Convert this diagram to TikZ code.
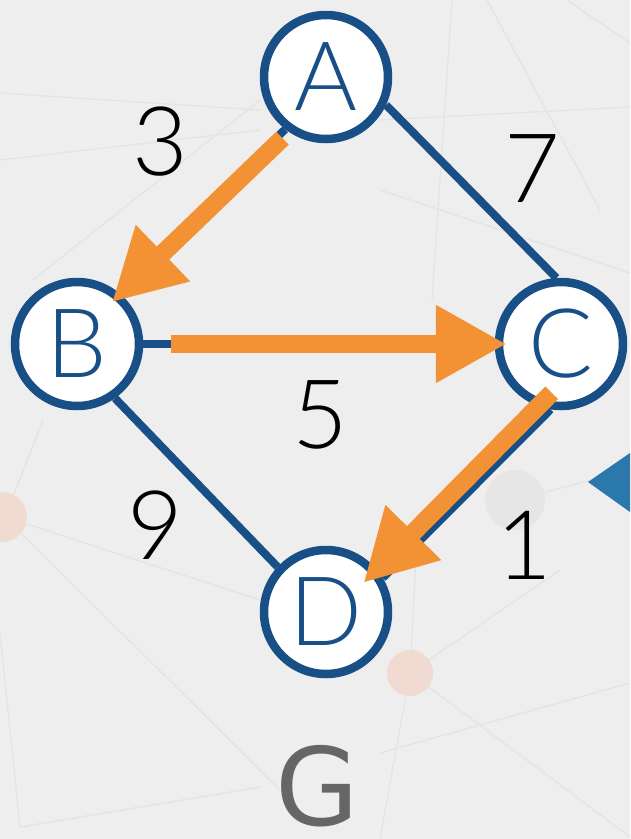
\documentclass[tikz,border=0pt]{standalone}
\usepackage{fontspec}
\setmainfont{Lato}[UprightFont=* Light]
\newfontfamily\gfont{DejaVu Sans}
\usetikzlibrary{arrows.meta}
\definecolor{bgc}{HTML}{EEEEEE}
\definecolor{nodeblue}{HTML}{174F86}
\definecolor{arrorange}{HTML}{F39234}
\definecolor{bgline}{HTML}{E4E4E4}
\definecolor{gtext}{HTML}{666666}
\definecolor{pinkdot}{HTML}{F0DAD2}
\definecolor{graydot}{HTML}{E6E6E6}
\definecolor{tri}{HTML}{2B78AD}
\pgfdeclarelayer{bg}
\pgfdeclarelayer{edges}
\pgfdeclarelayer{front}
\pgfsetlayers{bg,edges,main,front}
\begin{document}
\begin{tikzpicture}[x=1pt,y=-1pt,
  vertex/.style={circle,draw=nodeblue,line width=8.5pt,fill=white,minimum size=124pt,inner sep=0pt,text=nodeblue,font=\fontsize{96}{100}\selectfont},
  weight/.style={font=\fontsize{96}{100}\selectfont,text=black,inner sep=0pt},
  blueedge/.style={draw=nodeblue,line width=8pt},
  chosen/.style={draw=arrorange,line width=18pt,-{Triangle[width=73pt,length=71pt]}},
  bgl/.style={draw=bgline,line width=1.3pt}]
\useasboundingbox (0,0) rectangle (630,839);
\begin{pgfonlayer}{bg}
  \begin{scope}
  \clip (0,0) rectangle (630,839);
  \fill[bgc] (0,0) rectangle (630,839);
  % faint background network
  \draw[bgl] (452,0) -- (432,300);
  \draw[bgl] (487,0) -- (600,210);
  \draw[bgl] (567,0) -- (630,43);
  \draw[bgl] (380,120) -- (630,107);
  \draw[bgl] (380,190) -- (630,273);
  \draw[bgl] (0,93) -- (260,110);
  \draw[bgl] (0,160) -- (260,130);
  \draw[bgl] (33,280) -- (260,100);
  \draw[bgl] (5,517) -- (260,600);
  \draw[bgl] (5,517) -- (280,790);
  \draw[bgl] (43,420) -- (5,517);
  \draw[bgl] (0,633) -- (20,827);
  \draw[bgl] (20,827) -- (260,787);
  \draw[bgl] (410,673) -- (417,540);
  \draw[bgl] (410,673) -- (560,570);
  \draw[bgl] (410,673) -- (380,839);
  \draw[bgl] (410,673) -- (630,837);
  \draw[bgl] (380,753) -- (630,683);
  \draw[bgl] (515,500) -- (630,470);
  \fill[graydot] (515,500) circle (30);
  \fill[pinkdot] (410,673) circle (23);
  \fill[pinkdot] (2,517) circle (25);
  \fill[tri] (588,482) -- (630,453) -- (630,512) -- cycle;
  \end{scope}
\end{pgfonlayer}

\node[vertex] (A) at (326,77) {A};
\node[vertex] (B) at (77,344) {B};
\node[vertex] (C) at (561,344) {C};
\node[vertex] (D) at (326,612) {D};

\begin{pgfonlayer}{edges}
  \draw[blueedge] (A.-25) -- (C.94);
  \draw[blueedge] (B.-55) -- (D.137);
  \draw[blueedge] (A.232) -- (B.50);
  \draw[blueedge] (B.0) -- (C.180);
  \draw[blueedge] (C.261) -- (D.31);
\end{pgfonlayer}

\begin{pgfonlayer}{front}
  \draw[chosen, shorten <=9pt, shorten >=-12pt] (A.236) -- (B.49);
  \draw[chosen, shorten <=28pt, shorten >=-12pt] (B.0) -- (C.180);
  \draw[chosen, shorten <=-19pt, shorten >=-19pt] (C.250) -- (D.40);
\end{pgfonlayer}

\node[weight] (w3) at (160,142) {3};
\node[weight] (w7) at (532,169) {7};
\node[weight] (w5) at (320,415) {5};
\node[weight] (w9) at (155,525) {9};
\node[weight] (w1) at (524,545) {1};
\node[font=\gfont\fontsize{108}{116}\selectfont,text=gtext,inner sep=0pt] (G) at (317,786) {G};
\end{tikzpicture}
\end{document}
